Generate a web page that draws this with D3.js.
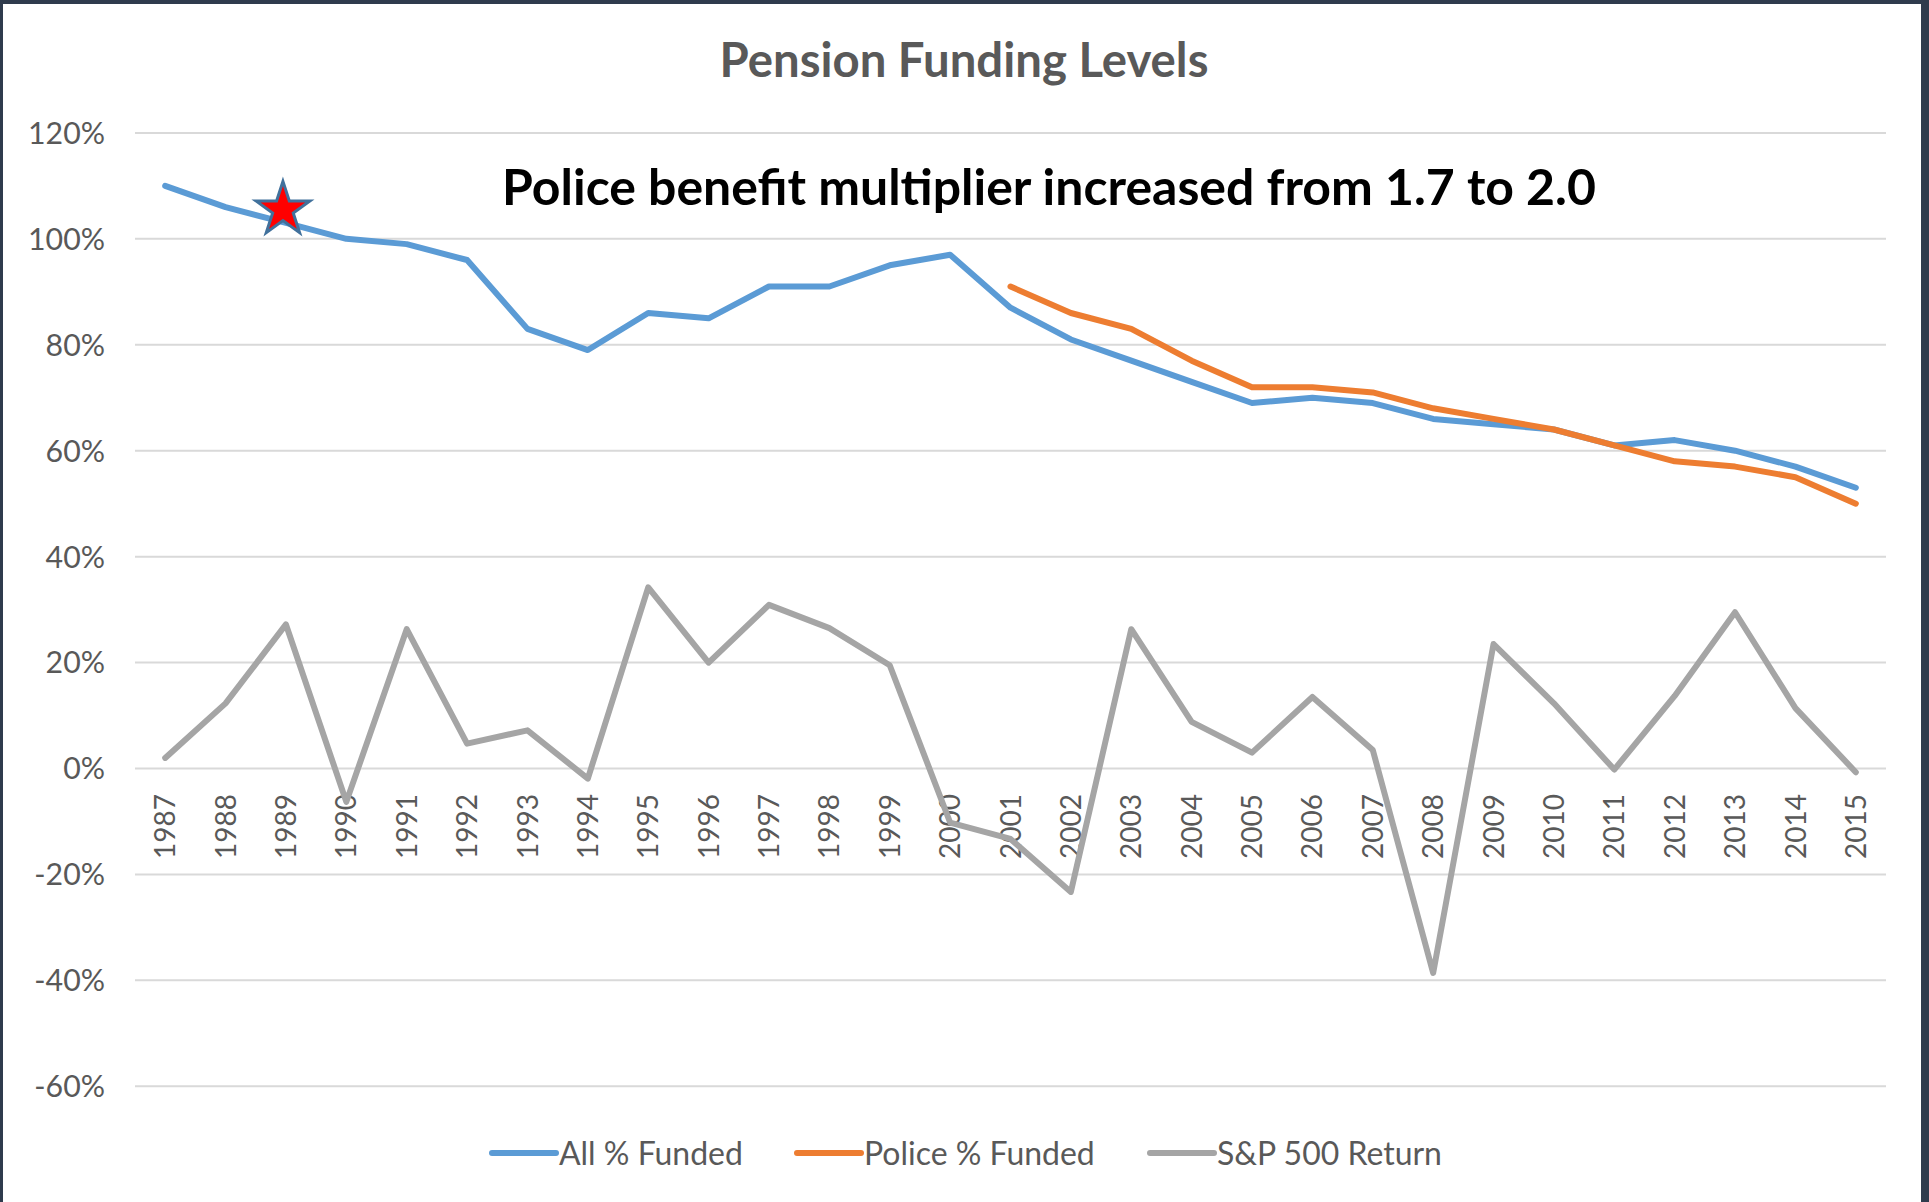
<!DOCTYPE html>
<html>
<head>
<meta charset="utf-8">
<script src="https://cdn.jsdelivr.net/npm/d3@7"></script>
<style>
  html, body { margin: 0; padding: 0; background: #ffffff; }
  svg { display: block; }
  text { font-family: Lato, "Open Sans", sans-serif; }
</style>
</head>
<body>
<svg id="chart" width="1929" height="1202"></svg>
<script>
const years = ["1987","1988","1989","1990","1991","1992","1993","1994","1995","1996","1997","1998","1999","2000","2001","2002","2003","2004","2005","2006","2007","2008","2009","2010","2011","2012","2013","2014","2015"];
const allFunded = [110,106,103,100,99,96,83,79,86,85,91,91,95,97,87,81,77,73,69,70,69,66,65,64,61,62,60,57,53];
const policeFunded = [null,null,null,null,null,null,null,null,null,null,null,null,null,null,91,86,83,77,72,72,71,68,66,64,61,58,57,55,50];
const spReturn = [2,12.3,27.2,-6.3,26.3,4.7,7.2,-1.9,34.2,20,30.9,26.5,19.5,-10.2,-13.3,-23.3,26.3,8.8,3,13.5,3.5,-38.6,23.5,12.3,-0.2,13.7,29.5,11.4,-0.7];
const yTicks = [-60,-40,-20,0,20,40,60,80,100,120];
const seriesNames = ["All % Funded","Police % Funded","S&P 500 Return"];
const seriesColors = ["#5B9BD5","#ED7D31","#A5A5A5"];
const titleText = "Pension Funding Levels";
const noteText = "Police benefit multiplier increased from 1.7 to 2.0";
const starYear = "1989";
const starValue = 105.5;

const svg = d3.select("#chart");
const W = 1929, H = 1202;

function fitSize(str, weight, target) {
  const t = svg.append("text").attr("font-size", 100).attr("font-weight", weight).text(str);
  const len = t.node().getComputedTextLength();
  t.remove();
  return 100 * target / len;
}

// background + frame
svg.append("rect").attr("x", 0).attr("y", 0).attr("width", W).attr("height", H).attr("fill", "#2f3b4d");
svg.append("rect").attr("x", 3).attr("y", 4).attr("width", 1921 - 3).attr("height", H - 4).attr("fill", "#ffffff");

const x = d3.scalePoint().domain(years).range([135, 1886]).padding(0.5);
const y = d3.scaleLinear().domain([-60, 120]).range([1086.3, 132.9]);

// gridlines
svg.append("g").selectAll("line").data(yTicks).join("line")
  .attr("x1", 135).attr("x2", 1886)
  .attr("y1", d => y(d)).attr("y2", d => y(d))
  .attr("stroke", "#d9d9d9").attr("stroke-width", 2);

// y labels
const ySize = fitSize("120%", 400, 77);
svg.append("g").selectAll("text").data(yTicks).join("text")
  .attr("x", 105).attr("y", d => y(d)).attr("dy", "0.36em")
  .attr("text-anchor", "end").attr("font-size", ySize).attr("fill", "#595959")
  .text(d => d + "%");

// x labels
const xSize = fitSize("1987", 400, 65);
svg.append("g").selectAll("text").data(years).join("text")
  .attr("transform", d => `translate(${x(d)},794) rotate(-90)`)
  .attr("dy", "0.36em")
  .attr("text-anchor", "end").attr("font-size", xSize).attr("fill", "#595959")
  .text(d => d);

// lines
const allData = [allFunded, policeFunded, spReturn];
const line = d3.line().defined(d => d.v !== null).x(d => x(d.year)).y(d => y(d.v));
allData.forEach((arr, i) => {
  const pts = years.map((yr, j) => ({ year: yr, v: arr[j] }));
  svg.append("path").datum(pts)
    .attr("d", line)
    .attr("fill", "none")
    .attr("stroke", seriesColors[i])
    .attr("stroke-width", 6)
    .attr("stroke-linejoin", "round")
    .attr("stroke-linecap", "round");
});

// title
const tSize = fitSize(titleText, 700, 489);
svg.append("text").attr("x", 964).attr("y", 77)
  .attr("text-anchor", "middle").attr("font-size", tSize).attr("font-weight", 700)
  .attr("fill", "#595959").text(titleText);

// annotation
const nSize = fitSize(noteText, 700, 1094);
svg.append("text").attr("x", 1049).attr("y", 205)
  .attr("text-anchor", "middle").attr("font-size", nSize).attr("font-weight", 700)
  .attr("fill", "#000000").text(noteText);

// star
const star = d3.symbol().type(d3.symbolStar).size(900);
svg.append("path").attr("d", star())
  .attr("transform", `translate(${x(starYear) - 3},${y(starValue)})`)
  .attr("fill", "#ff0000").attr("stroke", "#41719c").attr("stroke-width", 3).attr("stroke-linejoin", "miter");

// legend
const legX = [492, 797, 1150];
const legSize = fitSize("All % Funded", 400, 184);
const lg = svg.append("g");
seriesNames.forEach((name, i) => {
  lg.append("line").attr("x1", legX[i]).attr("x2", legX[i] + 64)
    .attr("y1", 1153).attr("y2", 1153)
    .attr("stroke", seriesColors[i]).attr("stroke-width", 6).attr("stroke-linecap", "round");
  lg.append("text").attr("x", legX[i] + 67).attr("y", 1153).attr("dy", "0.36em")
    .attr("font-size", legSize).attr("fill", "#595959").text(name);
});
</script>
</body>
</html>
